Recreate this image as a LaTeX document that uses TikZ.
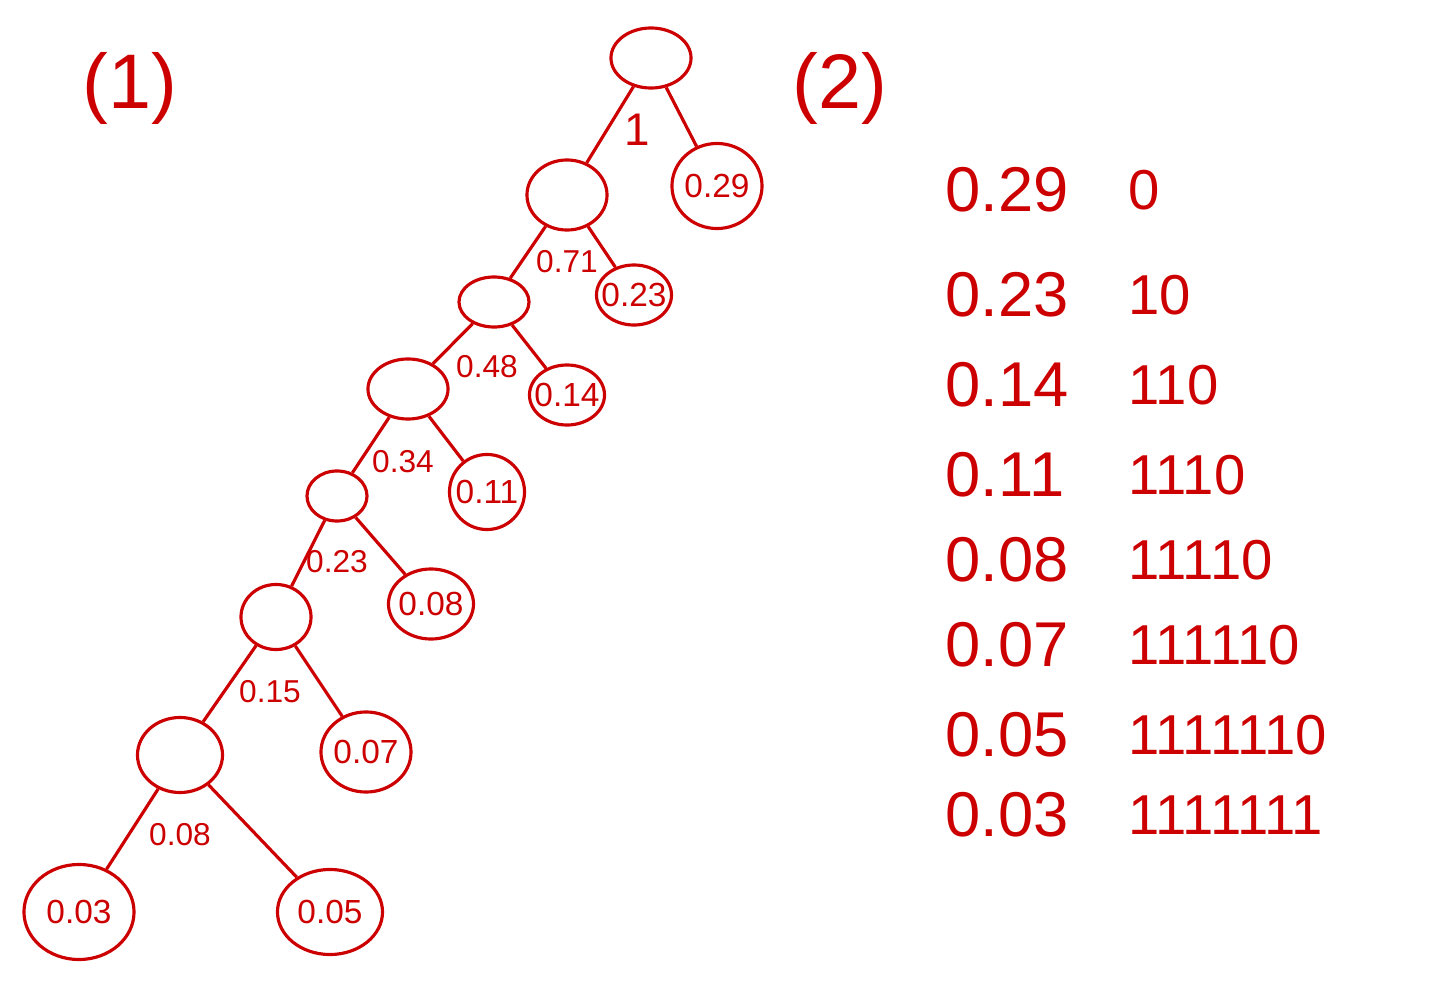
\documentclass[tikz,border=0pt]{standalone}
\usepackage{fontspec}
\setmainfont{Liberation Sans}
\usetikzlibrary{shapes.geometric}
\definecolor{inkred}{RGB}{204,0,0}

\begin{document}
\begin{tikzpicture}[x=0.01cm, y=-0.01cm,
    every node/.style = {text=inkred},
    edge/.style = {draw=inkred, line width=0.9pt},
    inner/.style = {ellipse, draw=inkred, line width=0.9pt, inner sep=0pt},
    leaf/.style = {ellipse, draw=inkred, line width=0.9pt, inner sep=0pt,
        label={[text=inkred, inner sep=0pt, font=\fontsize{9.5}{9.5}\selectfont]center:#1}},
    weight/.style = {font=\fontsize{9}{9}\selectfont, inner sep=0pt},
    tabval/.style = {font=\fontsize{18}{18}\selectfont, anchor=west, inner sep=0pt},
    tabcode/.style = {font=\fontsize{16}{16}\selectfont, anchor=west, inner sep=0pt}
    ]
  \useasboundingbox (0,0) rectangle (1429,1000);
  % the tree
  \node[inner, minimum width=0.8cm, minimum height=0.6cm] (root) at (651,58) {};
  \node[inner, minimum width=0.8cm, minimum height=0.7cm] (n71) at (567,195) {};
  \node[leaf=0.29, minimum width=0.9cm, minimum height=0.85cm] (l29) at (717,186) {};
  \node[inner, minimum width=0.7cm, minimum height=0.5cm] (n48) at (494,302) {};
  \node[leaf=0.23, minimum width=0.75cm, minimum height=0.6cm] (l23) at (634,295) {};
  \node[inner, minimum width=0.8cm, minimum height=0.6cm] (n34) at (408,389) {};
  \node[leaf=0.14, minimum width=0.75cm, minimum height=0.6cm] (l14) at (567,395) {};
  \node[inner, minimum width=0.6cm, minimum height=0.5cm] (n23) at (337,496) {};
  \node[leaf=0.11, minimum width=0.75cm, minimum height=0.75cm] (l11) at (487,492) {};
  \node[inner, minimum width=0.7cm, minimum height=0.65cm] (n15) at (276,617) {};
  \node[leaf=0.08, minimum width=0.85cm, minimum height=0.7cm] (l08) at (431,604) {};
  \node[inner, minimum width=0.85cm, minimum height=0.75cm] (n08) at (180,755) {};
  \node[leaf=0.07, minimum width=0.9cm, minimum height=0.8cm] (l07) at (366,752) {};
  \node[leaf=0.03, minimum width=1.1cm, minimum height=0.95cm] (l03) at (79,912) {};
  \node[leaf=0.05, minimum width=1.05cm, minimum height=0.85cm] (l05) at (330,912) {};

  \draw[edge] (root) -- (n71);
  \draw[edge] (root) -- (l29);
  \draw[edge] (n71) -- (n48);
  \draw[edge] (n71) -- (l23);
  \draw[edge] (n48) -- (n34);
  \draw[edge] (n48) -- (l14);
  \draw[edge] (n34) -- (n23);
  \draw[edge] (n34) -- (l11);
  \draw[edge] (n23) -- (n15);
  \draw[edge] (n23) -- (l08);
  \draw[edge] (n15) -- (n08);
  \draw[edge] (n15) -- (l07);
  \draw[edge] (n08) -- (l03);
  \draw[edge] (n08) -- (l05);

  % weights of the inner nodes
  \node[weight, font=\fontsize{13}{13}\selectfont] (w1) at (637,130) {1};
  \node[weight] (w71) at (567,262) {0.71};
  \node[weight] (w48) at (487,367) {0.48};
  \node[weight] (w34) at (403,462) {0.34};
  \node[weight] (w23) at (337,562) {0.23};
  \node[weight] (w15) at (270,692) {0.15};
  \node[weight] (w08) at (180,835) {0.08};

  \node[font=\fontsize{22}{22}\selectfont] (part1) at (130,88) {(1)};
  \node[font=\fontsize{22}{22}\selectfont] (part2) at (840,88) {(2)};

  % the code table
  \foreach \v/\c/\y [count=\i] in {0.29/0/190, 0.23/10/295, 0.14/110/385,
      0.11/1110/475, 0.08/11110/560, 0.07/111110/645, 0.05/1111110/735,
      0.03/1111111/815} {
    \node[tabval] (val\i) at (945,\y) {\v};
    \node[tabcode] (code\i) at (1128,\y) {\c};
  }
\end{tikzpicture}
\end{document}
